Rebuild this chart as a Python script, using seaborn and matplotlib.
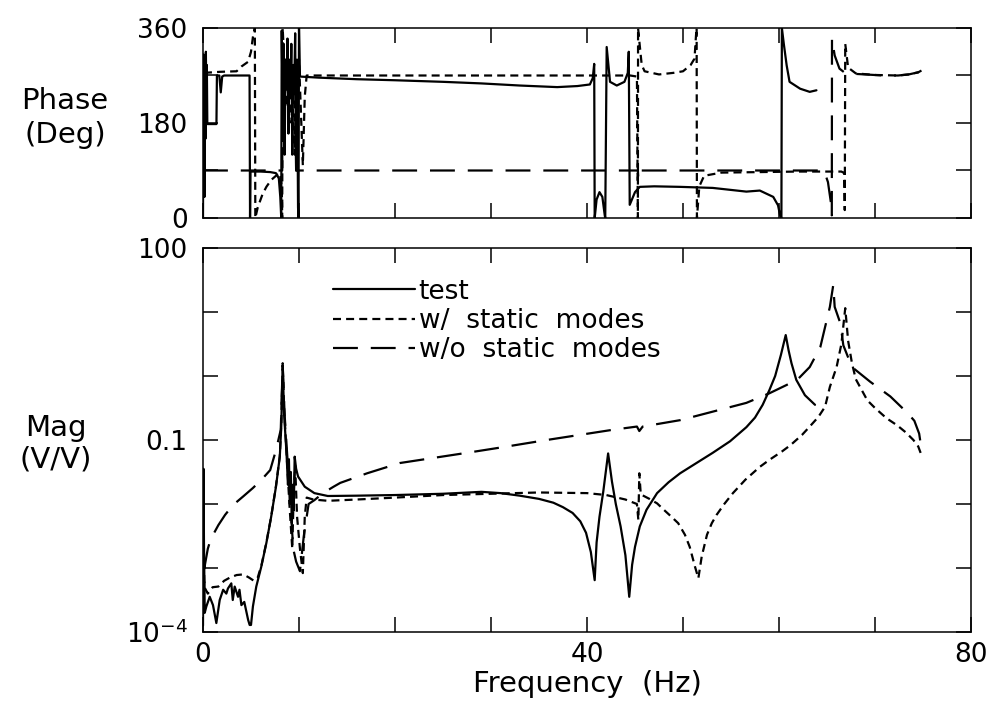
import numpy as np
import pandas as pd
import matplotlib
matplotlib.use("Agg")
import matplotlib.pyplot as plt
import seaborn as sns

# ---------------- data ----------------
# Magnitude, stored as log10(V/V)
test_mag_f = [0.0, 0.05, 0.1, 0.18, 0.35, 0.7, 1.04, 1.39, 1.74, 2.1, 2.43, 2.6, 2.95, 3.1, 3.3,
              3.65, 3.8, 4.0, 4.3, 4.7, 4.86, 5.0, 5.2, 5.55, 6.07, 6.6, 7.1, 7.6, 8.0, 8.15, 8.3,
              8.45, 8.7, 8.85, 8.95, 9.05, 9.15, 9.25, 9.35, 9.45, 9.55, 9.7, 9.9, 10.6, 11.6, 13.0,
              16.0, 20.0, 25.0, 29.0, 31.0, 33.0, 35.0, 36.5, 37.5, 38.5, 39.3, 39.9, 40.4, 40.8,
              41.0, 41.3, 41.7, 42.2, 42.6, 43.0, 43.5, 44.0, 44.4, 44.7, 45.0, 45.5, 46.2, 47.3,
              48.5, 49.7, 51.4, 53.1, 54.9, 56.6, 57.5, 58.3, 59.0, 59.6, 60.2, 60.7, 61.0, 61.3,
              61.8, 62.7, 63.75]
test_mag_log = [-3.9, -1.45, -2.6, -3.7, -3.6, -3.45, -3.58, -3.86, -3.5, -3.34, -3.4, -3.32, -3.24,
                -3.5, -3.29, -3.45, -3.34, -3.58, -3.53, -3.81, -3.89, -3.89, -3.6, -3.29, -2.98,
                -2.61, -2.2, -1.73, -1.26, -0.8, 0.15, -0.6, -1.21, -1.7, -1.3, -2.0, -1.5, -2.3,
                -1.7, -2.1, -1.26, -1.45, -1.57, -1.73, -1.83, -1.875, -1.87, -1.86, -1.84, -1.81,
                -1.83, -1.87, -1.92, -1.98, -2.05, -2.14, -2.27, -2.45, -2.75, -3.19, -2.6, -2.2,
                -1.8, -1.21, -1.65, -2.0, -2.35, -2.8, -3.45, -2.95, -2.67, -2.35, -2.09, -1.83,
                -1.66, -1.52, -1.36, -1.2, -1.02, -0.8, -0.65, -0.45, -0.22, 0.0, 0.33, 0.64, 0.4,
                0.2, -0.06, -0.3, -0.45]

ws_mag_f = [0.05, 0.15, 0.5, 1.0, 1.6, 2.2, 2.8, 3.5, 4.2, 4.8, 5.3, 5.7, 6.1, 6.6, 7.1, 7.6, 8.0,
            8.15, 8.3, 8.45, 8.7, 9.0, 9.3, 9.45, 9.6, 9.8, 10.1, 10.4, 10.6, 10.8, 11.5, 13.0, 16.0,
            20.0, 25.0, 30.0, 35.0, 40.0, 42.0, 44.0, 45.2, 45.35, 45.45, 45.6, 46.5, 47.3, 48.0,
            48.8, 49.5, 50.2, 50.7, 51.25, 51.6, 51.95, 52.5, 53.0, 53.5, 54.3, 55.2, 56.5, 58.0,
            59.0, 60.3, 61.2, 62.4, 63.2, 64.1, 64.8, 65.3, 66.0, 66.5, 66.9, 67.2, 67.6, 68.0,
            69.2, 70.0, 71.2, 72.3, 73.2, 74.0, 74.5, 74.9]
ws_mag_log = [-2.7, -3.3, -3.4, -3.3, -3.29, -3.2, -3.15, -3.11, -3.1, -3.15, -3.2, -3.15, -2.95,
              -2.6, -2.2, -1.72, -1.25, -0.75, 0.2, -0.5, -1.2, -2.0, -2.7, -1.8, -1.4, -2.2, -2.7,
              -3.08, -2.2, -1.9, -1.93, -1.95, -1.93, -1.9, -1.86, -1.84, -1.82, -1.83, -1.86,
              -1.93, -2.0, -2.25, -1.52, -1.85, -1.92, -1.99, -2.09, -2.2, -2.3, -2.48, -2.67,
              -2.98, -3.16, -2.82, -2.48, -2.3, -2.17, -2.0, -1.83, -1.62, -1.42, -1.31, -1.18,
              -1.08, -0.92, -0.79, -0.64, -0.48, -0.17, 0.14, 0.5, 1.06, 0.55, 0.2, -0.05, -0.38,
              -0.5, -0.66, -0.77, -0.88, -1.0, -1.1, -1.26]

wo_mag_f = [0.05, 0.2, 0.5, 0.8, 1.6, 2.3, 3.1, 4.2, 5.2, 6.1, 7.0, 7.6, 8.1, 8.3, 8.5, 8.8, 9.1,
            9.4, 9.7, 10.1, 10.5, 11.0, 11.6, 12.5, 13.6, 14.3, 17.1, 20.5, 24.0, 27.5, 30.9, 35.8,
            42.7, 45.2, 45.45, 45.8, 49.7, 56.6, 59.0, 61.9, 63.2, 64.3, 65.3, 65.65, 65.8, 66.4,
            66.7, 67.6, 69.5, 71.6, 73.4, 74.1, 74.6, 74.9]
wo_mag_log = [-3.6, -2.95, -2.7, -2.55, -2.33, -2.17, -2.02, -1.88, -1.75, -1.62, -1.47, -1.16,
              -0.84, 0.17, -0.6, -1.3, -2.0, -2.7, -2.9, -3.05, -2.5, -2.0, -1.94, -1.83, -1.73,
              -1.67, -1.52, -1.36, -1.28, -1.2, -1.12, -1.0, -0.84, -0.79, -0.86, -0.79, -0.69,
              -0.42, -0.27, -0.06, 0.14, 0.45, 1.08, 1.42, 1.08, 0.82, 0.48, 0.14, -0.09, -0.32,
              -0.58, -0.7, -0.9, -1.2]

# Phase (deg)
test_ph_f = [0.0, 0.04, 0.08, 0.12, 0.16, 0.2, 0.25, 0.3, 0.35, 0.4, 0.45, 0.6, 1.0, 1.4, 1.45,
             1.7, 1.85, 2.0, 2.2, 4.85, 4.9, 4.95, 6.0, 7.0, 7.6, 7.9, 8.05, 8.15, 8.2, 8.3, 8.4,
             8.5, 8.6, 8.7, 8.8, 8.9, 9.0, 9.1, 9.2, 9.3, 9.4, 9.5, 9.6, 9.7, 9.8, 9.9, 9.95, 10.0,
             10.1, 12.0, 16.0, 20.0, 25.0, 29.0, 33.0, 36.9, 39.0, 40.3, 40.6, 40.75, 40.8, 41.0,
             41.3, 41.6, 41.85, 41.9, 42.05, 42.4, 43.1, 43.9, 44.25, 44.35, 44.45, 45.0, 45.5,
             47.0, 49.7, 53.1, 56.6, 58.0, 59.4, 59.9, 60.1, 60.25, 60.3, 60.5, 60.8, 61.1, 62.2,
             63.2, 63.9]
test_ph = [0, 310, 100, 300, 40, 280, 150, 315, 200, 290, 178, 178, 178, 178, 270, 270, 238, 268,
           270, 270, 0, 88, 88, 87, 85, 75, 40, 0, 355, 200, 330, 120, 300, 250, 340, 160, 300, 230,
           330, 120, 290, 240, 350, 90, 300, 20, 0, 360, 268, 266, 263, 261, 258, 255, 251, 248,
           250, 253, 265, 292, 0, 35, 49, 40, 5, 0, 324, 258, 251, 258, 275, 315, 25, 49, 59, 60,
           59, 57, 50, 52, 40, 24, 6, 0, 360, 330, 289, 258, 245, 239, 242]

ws_ph_f = [0.1, 1.8, 3.5, 4.0, 4.7, 5.0, 5.2, 5.4, 5.45, 5.7, 6.2, 6.6, 7.1, 7.6, 8.0, 8.2, 8.25,
           8.3, 8.45, 8.6, 8.8, 9.0, 9.2, 9.55, 9.6, 9.8, 10.0, 10.2, 10.4, 10.6, 10.8, 12.0, 20.0,
           30.0, 40.0, 44.5, 45.2, 45.3, 45.32, 45.45, 45.7, 46.0, 47.5, 49.0, 50.0, 50.8, 51.2,
           51.35, 51.42, 51.45, 51.7, 52.2, 54.0, 58.0, 62.0, 66.5, 66.8, 66.85, 66.9, 67.2, 68.0,
           70.0, 72.4, 73.5, 74.5, 75.0]
ws_ph = [275, 277, 278, 287, 296, 315, 343, 360, 0, 20, 45, 59, 72, 80, 85, 60, 0, 360, 300, 210,
         300, 180, 290, 120, 300, 240, 300, 200, 100, 230, 270, 270, 270, 270, 270, 270, 268, 0,
         360, 335, 290, 278, 272, 275, 278, 290, 302, 345, 360, 0, 60, 80, 86, 87, 88, 88, 85, 15,
         330, 285, 274, 271, 270, 272, 276, 281]

wo_ph_f = [0.0, 8.25, 8.3, 9.6, 9.7, 45.3, 45.35, 45.4, 64.5, 64.8, 65.1, 65.4, 65.5, 65.52, 65.8,
           66.3, 66.8, 68.0, 70.9, 72.4, 73.5, 74.5, 75.0]
wo_ph = [90, 90, 270, 270, 90, 90, 75, 90, 90, 84, 68, 30, 5, 340, 308, 283, 276, 273, 270, 270,
         272, 276, 281]

freq_ticks = [0, 10, 20, 30, 40, 50, 60, 70, 80]
freq_labels = ["0", "", "", "", "40", "", "", "", "80"]
phase_ticks = [0, 90, 180, 270, 360]
phase_labels = ["0", "", "180", "", "360"]
mag_ticks = [1e-4, 1e-3, 1e-2, 1e-1, 1e0, 1e1, 1e2]
mag_labels = ["10$^{-4}$", "", "", "0.1", "", "", "100"]

series_names = ["test", "w/  static  modes", "w/o  static  modes"]

# ---------------- style ----------------
sns.set_theme(style="ticks")
plt.rcParams['font.family'] = ['DejaVu Sans']
plt.rcParams['mathtext.fontset'] = 'dejavusans'
plt.rcParams['mathtext.default'] = 'regular'
plt.rcParams['axes.edgecolor'] = 'black'
plt.rcParams['axes.linewidth'] = 1.1
plt.rcParams['text.color'] = 'black'
plt.rcParams['axes.labelcolor'] = 'black'
plt.rcParams['xtick.color'] = 'black'
plt.rcParams['ytick.color'] = 'black'

LW = 1.6
styles = {
    "test": "-",
    "w/  static  modes": (0, (3.6, 2.3)),
    "w/o  static  modes": (0, (11.2, 5.8)),
}

fig = plt.figure(figsize=(9.91, 7.11), dpi=100)
W, H = 991, 711
ax_top = fig.add_axes([203 / W, (H - 218) / H, (971 - 203) / W, 190 / H])
ax_bot = fig.add_axes([203 / W, (H - 632) / H, (971 - 203) / W, 384 / H])

def draw(ax, f, y, name, label=None):
    df = pd.DataFrame({"f": f, "y": y})
    kw = dict(color="black", linewidth=LW, linestyle=styles[name])
    if label is not None:
        kw["label"] = label
    sns.lineplot(data=df, x="f", y="y", ax=ax, estimator=None, sort=False, **kw)

# phase panel
draw(ax_top, test_ph_f, test_ph, series_names[0])
draw(ax_top, ws_ph_f, ws_ph, series_names[1])
draw(ax_top, wo_ph_f, wo_ph, series_names[2])

# magnitude panel
draw(ax_bot, test_mag_f, np.power(10.0, test_mag_log), series_names[0], series_names[0])
draw(ax_bot, ws_mag_f, np.power(10.0, ws_mag_log), series_names[1], series_names[1])
draw(ax_bot, wo_mag_f, np.power(10.0, wo_mag_log), series_names[2], series_names[2])

for ax in (ax_top, ax_bot):
    ax.set_xlim(0, 80)
    ax.set_xticks(freq_ticks)
    ax.tick_params(axis="both", which="major", direction="in", length=11, width=1.1,
                   top=True, right=True, labelsize=19, colors="black", pad=11)
    ax.tick_params(axis="x", pad=7)
    ax.tick_params(which="minor", length=0)
    ax.set_xlabel("")
    ax.set_ylabel("")
    for s in ax.spines.values():
        s.set_visible(True)
        s.set_color("black")
        s.set_linewidth(1.1)

ax_top.set_ylim(0, 360)
ax_top.set_yticks(phase_ticks)
ax_top.set_yticklabels(phase_labels)
ax_top.set_xticklabels([""] * len(freq_ticks))

ax_bot.set_yscale("log")
ax_bot.set_ylim(1e-4, 100)
ax_bot.set_yticks(mag_ticks)
ax_bot.set_yticklabels(mag_labels)
ax_bot.yaxis.set_minor_locator(matplotlib.ticker.NullLocator())
ax_bot.set_xticklabels(freq_labels)
ax_bot.set_xlabel("Frequency  (Hz)", fontsize=21, labelpad=2, color="black")

leg = ax_bot.legend(loc="upper left", bbox_to_anchor=(0.169, 0.92), frameon=False,
                    fontsize=19, handlelength=3.1, handletextpad=0.15, borderpad=0,
                    borderaxespad=0, labelspacing=0.12)
for t in leg.get_texts():
    t.set_color("black")

fig.text(65 / W, 1 - 118 / H, "Phase\n(Deg)", ha="center", va="center", fontsize=21,
         linespacing=1.25, color="black")
fig.text(56 / W, 1 - 444 / H, "Mag\n(V/V)", ha="center", va="center", fontsize=21,
         linespacing=1.15, color="black")

fig.savefig("out.png", dpi=100, facecolor="white")
